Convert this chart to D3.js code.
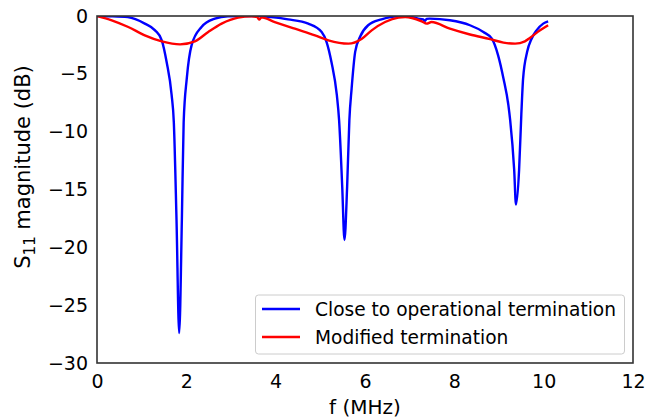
<!DOCTYPE html>
<html>
<head>
<meta charset="utf-8">
<script src="https://cdn.jsdelivr.net/npm/d3@7"></script>
<style>
  body { margin: 0; background: #fff; }
  text { font-family: "DejaVu Sans", sans-serif; }
</style>
</head>
<body>
<svg id="chart" width="645" height="420"></svg>
<script>
// frequency (MHz) and S11 (dB)
var blueF = [0, 0.3, 0.69, 1.07, 1.3, 1.45, 1.56, 1.67, 1.72, 1.78, 1.84, 1.9, 1.94, 2.01, 2.12, 2.34, 2.64, 2.93, 3.3, 3.6, 3.9, 4.28, 4.73, 5.03, 5.14, 5.25, 5.37, 5.42, 5.49, 5.54, 5.6, 5.65, 5.7, 5.78, 5.89, 6.07, 6.37, 6.67, 6.97, 7.19, 7.3, 7.34, 7.38, 7.45, 7.9, 8.35, 8.65, 8.84, 8.98, 9.1, 9.21, 9.25, 9.34, 9.38, 9.45, 9.5, 9.54, 9.63, 9.73, 9.84, 9.99, 10.1];
var blueDb = [0, -0.02, -0.1, -0.66, -1.24, -2.1, -4.0, -6.8, -9.2, -17.6, -27.4, -17.6, -9.2, -5.4, -2.5, -0.95, -0.23, -0.02, 0, 0, -0.1, -0.29, -0.66, -1.38, -2.25, -4.0, -6.85, -9.0, -14.75, -19.36, -14.75, -9.0, -6.3, -3.1, -1.8, -0.8, -0.29, -0.05, -0.05, -0.23, -0.3, -0.42, -0.25, -0.23, -0.37, -0.8, -1.38, -1.96, -3.4, -5.4, -7.7, -9.0, -13.3, -16.3, -13.3, -8.5, -5.4, -3.1, -1.96, -1.24, -0.66, -0.46];

var redF = [0, 0.33, 0.7, 1.07, 1.45, 1.86, 2.19, 2.49, 2.79, 3.16, 3.46, 3.58, 3.63, 3.68, 3.98, 4.43, 4.88, 5.18, 5.63, 5.93, 6.15, 6.45, 6.75, 6.9, 7.05, 7.27, 7.38, 7.49, 7.9, 8.35, 8.8, 9.1, 9.36, 9.58, 9.69, 9.92, 10.1];
var redDb = [0, -0.37, -0.95, -1.67, -2.19, -2.45, -2.19, -1.38, -0.66, -0.14, -0.03, -0.08, -0.3, -0.12, -0.52, -1.1, -1.67, -2.1, -2.39, -1.96, -1.24, -0.52, -0.14, -0.1, -0.17, -0.46, -0.66, -0.52, -1.1, -1.6, -2.0, -2.3, -2.39, -2.19, -1.9, -1.24, -0.8];

var xTicks = [0, 2, 4, 6, 8, 10, 12];
var yTicks = [0, -5, -10, -15, -20, -25, -30];
var seriesNames = ["Close to operational termination", "Modified termination"];
var seriesColors = ["#0000ff", "#ff0000"];

var plotL = 97, plotR = 633, plotT = 16, plotB = 363;

var svg = d3.select("#chart");

var x = d3.scaleLinear().domain([0, 12]).range([plotL, plotR]);
var y = d3.scaleLinear().domain([-30, 0]).range([plotB, plotT]);

svg.append("clipPath").attr("id", "plotclip")
  .append("rect")
    .attr("x", plotL).attr("y", plotT)
    .attr("width", plotR - plotL).attr("height", plotB - plotT);

// tick labels only, no tick marks
var xAxis = svg.append("g")
    .attr("transform", "translate(0," + plotB + ")")
    .call(d3.axisBottom(x).tickValues(xTicks).tickSize(0).tickPadding(12));
var yAxis = svg.append("g")
    .attr("transform", "translate(" + plotL + ",0)")
    .call(d3.axisLeft(y).tickValues(yTicks).tickSize(0).tickPadding(9)
      .tickFormat(function(d) { return d < 0 ? "\u2212" + (-d) : d; }));

[xAxis, yAxis].forEach(function(g) {
  g.select(".domain").remove();
  g.selectAll("text")
    .attr("font-family", "DejaVu Sans, sans-serif")
    .attr("font-size", 19)
    .attr("fill", "#000");
});

var line = d3.line()
    .x(function(d) { return x(d[0]); })
    .y(function(d) { return y(d[1]); })
    .curve(d3.curveMonotoneX);

var plot = svg.append("g").attr("clip-path", "url(#plotclip)");

plot.append("path")
    .datum(blueF.map(function(f, i) { return [f, blueDb[i]]; }))
    .attr("d", line)
    .attr("fill", "none")
    .attr("stroke", seriesColors[0])
    .attr("stroke-width", 2.4);

plot.append("path")
    .datum(redF.map(function(f, i) { return [f, redDb[i]]; }))
    .attr("d", line)
    .attr("fill", "none")
    .attr("stroke", seriesColors[1])
    .attr("stroke-width", 2.4);

// frame
svg.append("rect")
    .attr("x", plotL).attr("y", plotT)
    .attr("width", plotR - plotL).attr("height", plotB - plotT)
    .attr("fill", "none")
    .attr("stroke", "#333")
    .attr("stroke-width", 1.6);

// axis titles
svg.append("text")
    .attr("x", (plotL + plotR) / 2)
    .attr("y", 414)
    .attr("text-anchor", "middle")
    .attr("font-size", 20)
    .text("f (MHz)");

var ylab = svg.append("text")
    .attr("transform", "translate(30,167) rotate(-90)")
    .attr("text-anchor", "middle")
    .attr("font-size", 21);
ylab.append("tspan").text("S");
ylab.append("tspan").attr("font-size", 15).attr("dy", 5).text("11");
ylab.append("tspan").attr("dy", -5).text(" magnitude (dB)");

// legend
var legend = svg.append("g");
legend.append("rect")
    .attr("x", 255.5).attr("y", 295)
    .attr("width", 369).attr("height", 59)
    .attr("rx", 3)
    .attr("fill", "#fff")
    .attr("fill-opacity", 0.8)
    .attr("stroke", "#ccc");

seriesNames.forEach(function(name, i) {
  var ly = 309 + i * 28;
  legend.append("line")
      .attr("x1", 262).attr("x2", 300)
      .attr("y1", ly).attr("y2", ly)
      .attr("stroke", seriesColors[i])
      .attr("stroke-width", 2.4);
  legend.append("text")
      .attr("x", 315).attr("y", ly + 7)
      .attr("font-size", 18.6)
      .text(name);
});
</script>
</body>
</html>
